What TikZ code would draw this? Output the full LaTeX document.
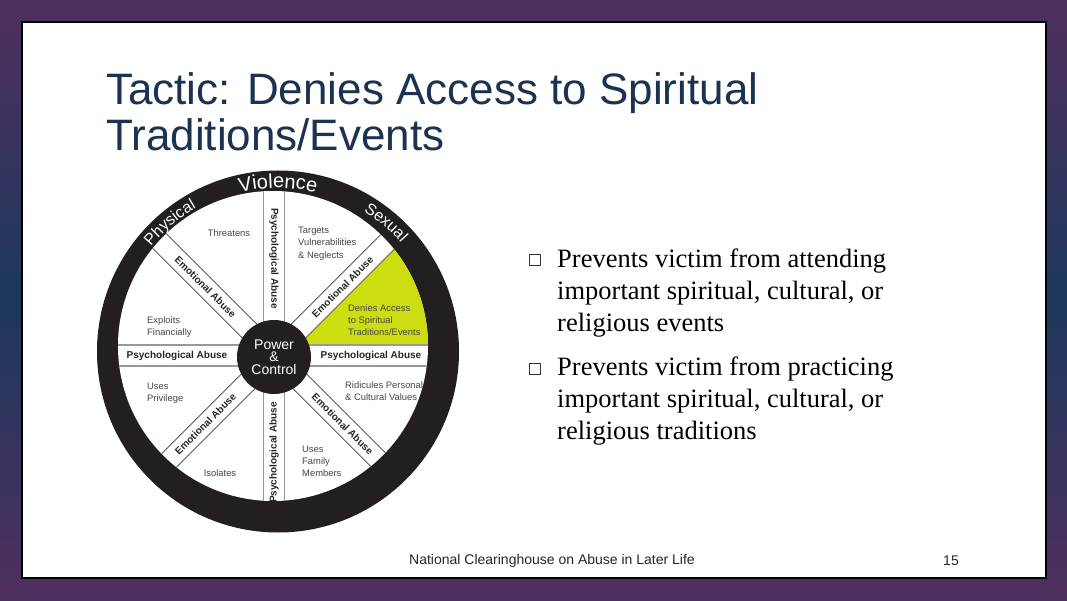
\documentclass[tikz,border=0pt]{standalone}
\usepackage{fontspec}
\setmainfont{Liberation Sans}
\newfontfamily\bulletfont{Liberation Serif}
\usetikzlibrary{calc,decorations.text}
\definecolor{slidepurple}{RGB}{80,47,96}
\definecolor{slideblue}{RGB}{28,56,92}
\definecolor{titleblue}{RGB}{27,50,80}
\definecolor{wheelblack}{RGB}{35,31,32}
\definecolor{spiritgreen}{RGB}{204,222,18}
\definecolor{wedgegray}{RGB}{70,70,70}

\begin{document}
\begin{tikzpicture}[x=1pt,y=1pt]

 \tikzset{
    wedgetext/.style={font=\fontsize{9.4}{12.3}\selectfont, text=wedgegray, align=left, inner sep=0},
    bandlabel/.style={font=\bfseries\fontsize{10}{10}\selectfont, text=black!85, inner sep=0},
    psyline/.style={draw=black!40, line width=1.2},
    emoline/.style={draw=black!75, line width=0.7},
    ringtext/.style={decorate, decoration={text along path, text align=center, text color=white, text={#1}}},
    hub/.style={circle, fill=wheelblack, minimum size=74, inner sep=0, text=white, align=center, font=\fontsize{14}{12.5}\selectfont},
    bullettext/.style={font=\bulletfont\fontsize{26.5}{32}\selectfont, align=left, anchor=north west, inner sep=0},
    bulletbox/.style={draw=black!80, line width=0.9, minimum size=10.5, inner sep=0},
  }

  \shade[top color=slidepurple, bottom color=slidepurple, middle color=slideblue] (0,0) rectangle (1067,600);
  \fill[white, draw=black, line width=1.5] (22,22) rectangle (1046,578);
  \useasboundingbox (0,0) rectangle (1067,600);

  \node[anchor=north west, inner sep=0, align=left, text=titleblue, font=\fontsize{44}{46}\selectfont] (title) at (106,528)
    {Tactic: Denies Access to Spiritual\\Traditions/Events};

  \coordinate (C) at (274,244.5);
  \coordinate (O) at (278,248.5);
  \coordinate (I) at (273,254);

  \fill[wheelblack] (O) circle (181);
  \fill[white] (I) circle (155);
  \begin{scope}
    \clip (I) circle (155);
    \fill[spiritgreen] ($(C)+(25.3,10.5)$) -- ++(250,250) -- ++(100,0) -- ++(0,-250) -- cycle;
    \foreach \ang in {0,90} {
      \draw[psyline] ($(C)+(\ang:-200)+(\ang+90:10.5)$) -- ($(C)+(\ang:200)+(\ang+90:10.5)$);
      \draw[psyline] ($(C)+(\ang:-200)+(\ang-90:10.5)$) -- ($(C)+(\ang:200)+(\ang-90:10.5)$);
    }
    \foreach \ang in {45,135} {
      \draw[emoline] ($(C)+(\ang:-200)+(\ang+90:10)$) -- ($(C)+(\ang:200)+(\ang+90:10)$);
      \draw[emoline] ($(C)+(\ang:-200)+(\ang-90:10)$) -- ($(C)+(\ang:200)+(\ang-90:10)$);
    }
  \end{scope}

  \path[ringtext={|\fontsize{20}{20}\selectfont|Violence}] ($(O)+(115:163.5)$) arc[start angle=115, end angle=65, radius=163.5];
  \path[ringtext={|\fontsize{16}{16}\selectfont|Physical}] ($(O)+(155:165)$) arc[start angle=155, end angle=105, radius=165];
  \path[ringtext={|\fontsize{16}{16}\selectfont|Sexual}] ($(O)+(75:164)$) arc[start angle=75, end angle=25, radius=164];

  \foreach \ang/\rot/\txt in {0/0/Psychological Abuse, 45/45/Emotional Abuse, 90/-90/Psychological Abuse,
      135/-45/Emotional Abuse, 180/0/Psychological Abuse, 225/45/Emotional Abuse,
      270/90/Psychological Abuse, 315/-45/Emotional Abuse}
    \node[bandlabel, rotate=\rot] (band\ang) at ($(C)+(\ang:97)$) {\txt};

  \node[hub] (power) at (274,243) {Power\\\&\\Control};

  \node[wedgetext] (threatens) at (229,367) {Threatens};
  \node[wedgetext, anchor=west] (targets) at (298,356.5) {Targets\\Vulnerabilities\\\& Neglects};
  \node[wedgetext, anchor=west] (exploits) at (147,273) {Exploits\\Financially};
  \node[wedgetext, anchor=west] (denies) at (348,280) {Denies Access\\to Spiritual\\Traditions/Events};
  \node[wedgetext, anchor=west] (privilege) at (147,207) {Uses\\Privilege};
  \node[wedgetext, anchor=west] (ridicules) at (345,209) {Ridicules Personal\\\& Cultural Values};
  \node[wedgetext] (isolates) at (220,127) {Isolates};
  \node[wedgetext, anchor=west] (family) at (302,138.5) {Uses\\Family\\Members};

  \node[bulletbox] (box1) at (535,340) {};
  \node[bullettext] (point1) at (557,351) {Prevents victim from attending\\important spiritual, cultural, or\\religious events};
  \node[bulletbox] (box2) at (535,231) {};
  \node[bullettext] (point2) at (557,243) {Prevents victim from practicing\\important spiritual, cultural, or\\religious traditions};

  \node[font=\fontsize{14}{14}\selectfont, text=black!85] (footer) at (552,39) {National Clearinghouse on Abuse in Later Life};
  \node[font=\fontsize{14}{14}\selectfont, text=black!85] (pageno) at (951,39) {15};
\end{tikzpicture}
\end{document}
